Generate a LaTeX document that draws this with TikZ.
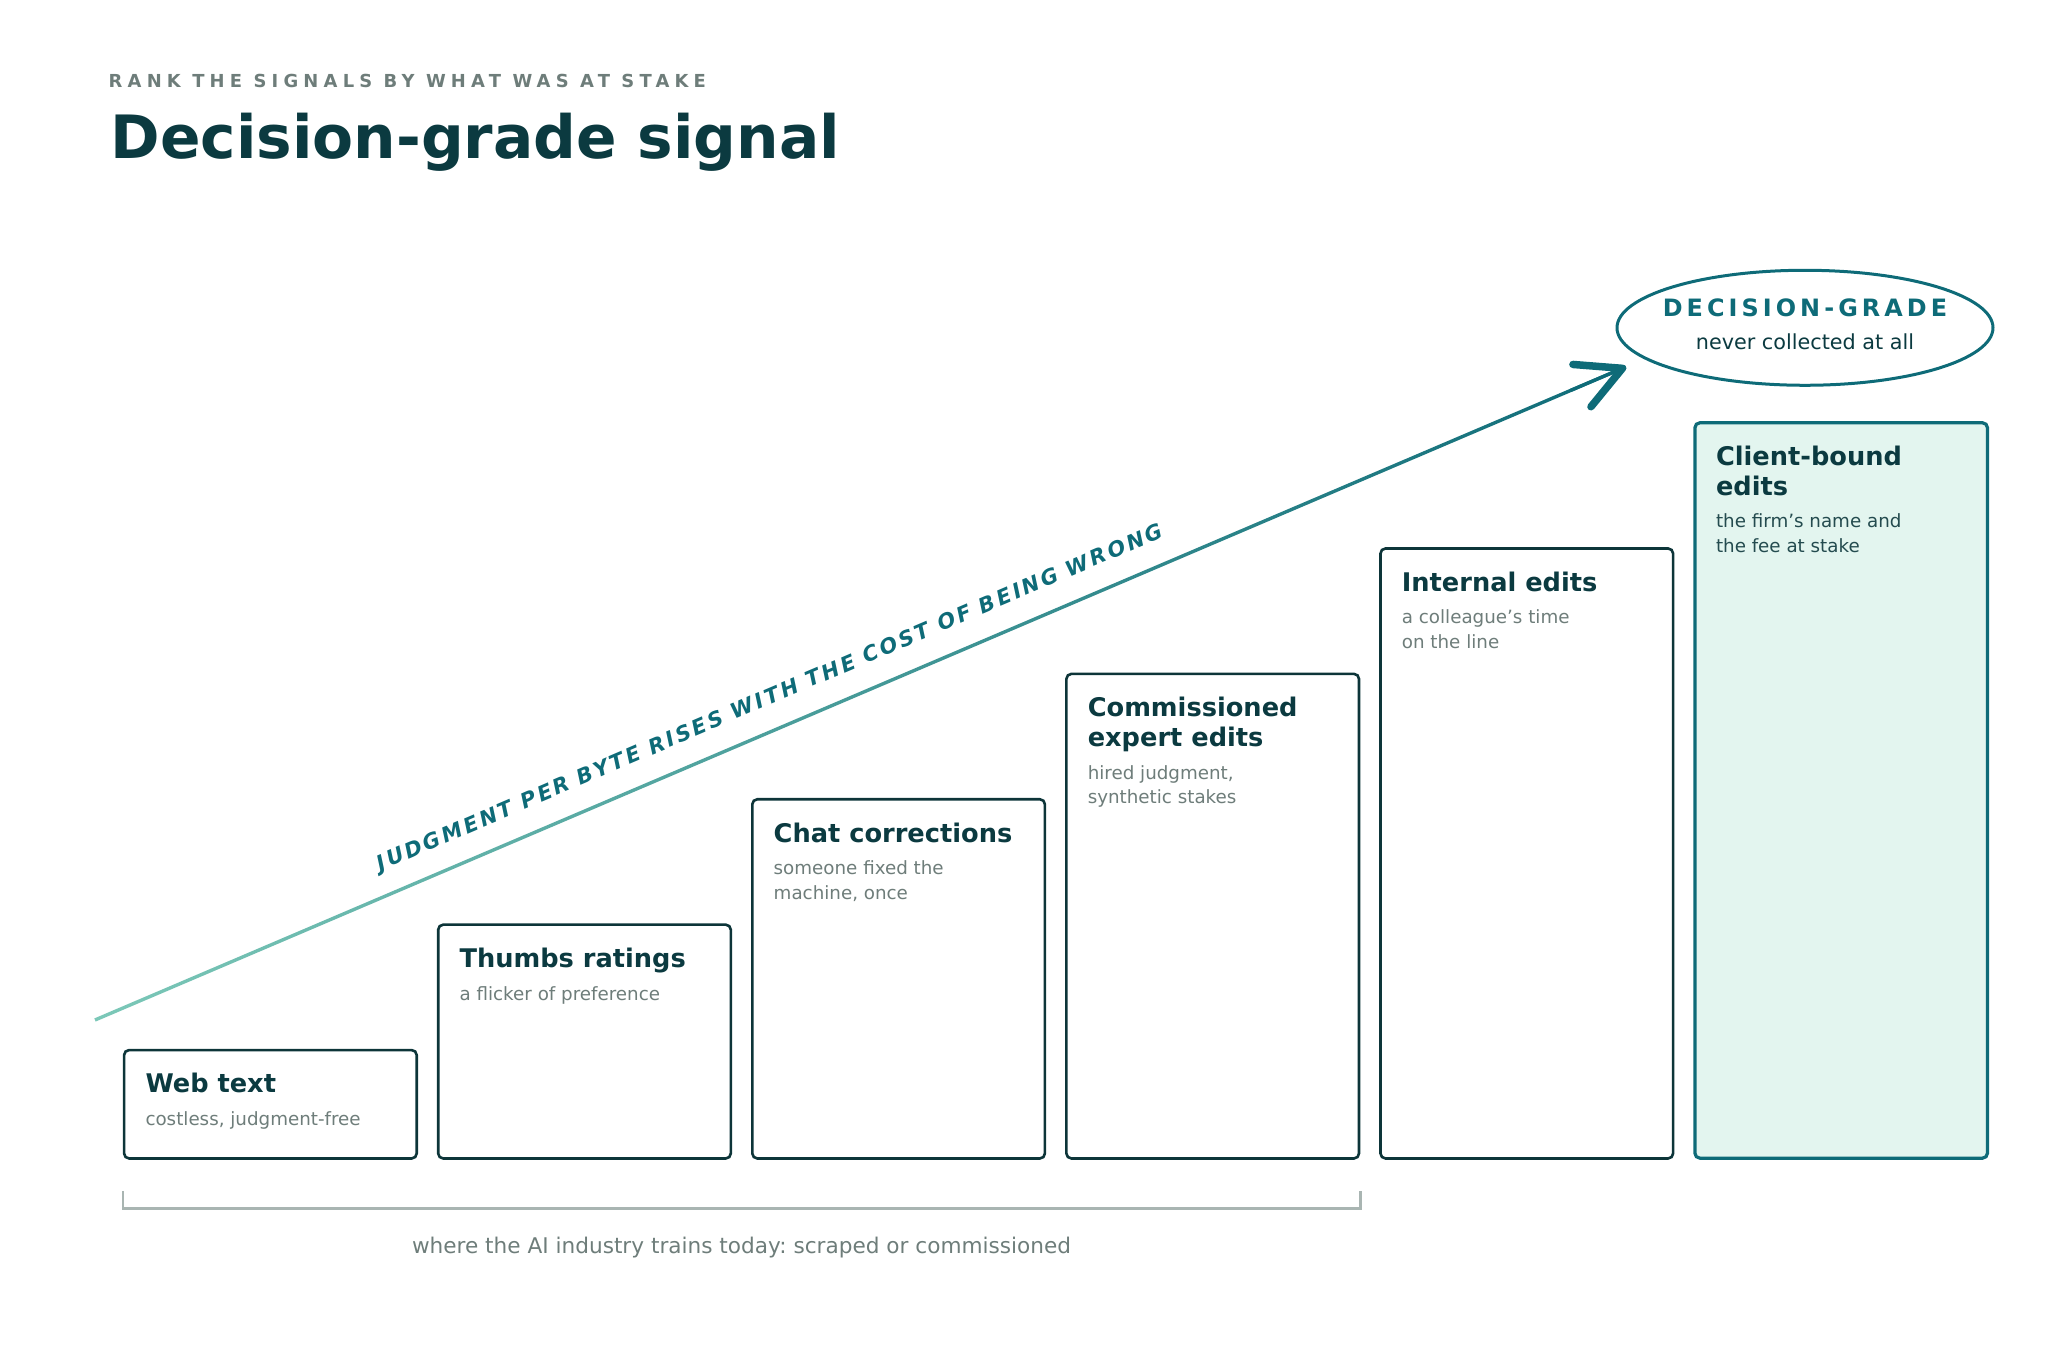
\documentclass[tikz,border=0pt]{standalone}
\usepackage{fontspec}
\setmainfont{DejaVu Sans}
\usepackage{tikz}
\usetikzlibrary{shapes.geometric, arrows.meta, positioning, calc}
\frenchspacing

\definecolor{ink}{HTML}{0B3A40}
\definecolor{deepteal}{HTML}{0E6B78}
\definecolor{softteal}{HTML}{7CC8B8}
\definecolor{mutegray}{HTML}{6E7D7A}
\definecolor{rulegray}{HTML}{A9B5B2}
\definecolor{mintfill}{HTML}{E3F5EF}
\definecolor{boxline}{HTML}{0D3539}

% title + note inside a step
\newcommand{\steptext}[3][mutegray]{%
  \spaceskip=0pt \xspaceskip=0pt
  {\bfseries\fontsize{7.3}{8.5}\selectfont\color{ink}#2\par}\vspace{2.2pt}%
  {\fontsize{5.2}{7.05}\selectfont\color{#1}#3\par}}

\begin{document}
\begin{tikzpicture}[
  stepbox/.style={draw=boxline, line width=0.026cm, rounded corners=0.05cm, fill=white, minimum width=2.926cm, anchor=south west, inner sep=0pt},
  topbox/.style={stepbox, draw=deepteal, line width=0.032cm, fill=mintfill},
  steptxt/.style={anchor=north west, inner sep=0pt, text width=2.6cm, align=flush left},
  goalring/.style={ellipse, draw=deepteal, line width=0.03cm, minimum width=3.76cm, minimum height=1.15cm, inner sep=0pt},
  bracket/.style={draw=rulegray, line width=0.026cm},
  tip/.style={-{Straight Barb[length=0.44cm, width=0.46cm, line width=0.075cm, round]}}
]
\useasboundingbox (0,0) rectangle (20.48,13.66);

% ----- Heading -----
\node[anchor=base west, inner sep=0pt, text=mutegray, font=\bfseries\fontsize{5.1}{6}\selectfont\addfontfeature{LetterSpace=29}] (kicker) at (1.08, 12.785) {RANK THE SIGNALS BY WHAT WAS AT STAKE};
\node[anchor=base west, inner sep=0pt, text=ink, font=\bfseries\fontsize{17}{20}\selectfont] (headline) at (1.10, 12.07) {Decision-grade signal};

% ----- Steps (bottom at y = 2.062) -----
\node[stepbox, minimum height=1.084cm] (web)      at (1.228, 2.062) {};
\node[stepbox, minimum height=2.338cm] (thumbs)   at (4.369, 2.062) {};
\node[stepbox, minimum height=3.592cm] (chat)     at (7.510, 2.062) {};
\node[stepbox, minimum height=4.846cm] (expert)   at (10.651, 2.062) {};
\node[stepbox, minimum height=6.100cm] (internal) at (13.792, 2.062) {};
\node[topbox,  minimum height=7.354cm] (client)   at (16.933, 2.062) {};

\node[steptxt, below right=0.24cm and 0.22cm of web.north west] (webtxt) {\steptext{Web text}{costless, judgment-free}};
\node[steptxt, below right=0.24cm and 0.22cm of thumbs.north west] (thumbstxt) {\steptext{Thumbs ratings}{a flicker of preference}};
\node[steptxt, below right=0.24cm and 0.22cm of chat.north west] (chattxt) {\steptext{Chat corrections}{someone fixed the\\machine, once}};
\node[steptxt, below right=0.24cm and 0.22cm of expert.north west] (experttxt) {\steptext{Commissioned\\expert edits}{hired judgment,\\synthetic stakes}};
\node[steptxt, below right=0.24cm and 0.22cm of internal.north west] (internaltxt) {\steptext{Internal edits}{a colleague’s time\\on the line}};
\node[steptxt, below right=0.24cm and 0.22cm of client.north west] (clienttxt) {\steptext[ink!75!mutegray]{Client-bound\\edits}{the firm’s name and\\the fee at stake}};

% ----- Goal -----
\node[goalring] (goal) at (18.05, 10.382) {};
\node[inner sep=0pt, text=deepteal, font=\bfseries\fontsize{6.8}{8}\selectfont\addfontfeature{LetterSpace=17}] (goaltitle) at ([yshift=0.2cm]goal.center) {DECISION-GRADE};
\node[inner sep=0pt, text=ink, font=\fontsize{5.9}{7}\selectfont] (goalnote) at ([yshift=-0.14cm]goal.center) {never collected at all};

% ----- Rising arrow -----
\coordinate (rise) at (0.95, 3.46);
\coordinate (peak) at ($(goal.191)!0.2cm!(rise)$);
\shade[left color=softteal, right color=deepteal]
  ($(rise)!0.017cm!90:(peak)$) -- ($(peak)!0.017cm!-90:(rise)$) -- ($(peak)!0.017cm!90:(rise)$) -- ($(rise)!0.017cm!-90:(peak)$) -- cycle;
\draw[deepteal, line width=0.033cm, tip] ($(peak)!0.6cm!(rise)$) -- (peak);
\path (rise) -- (peak) node[pos=0.449, sloped, above=0.2cm, inner sep=0pt, text=deepteal, font=\bfseries\itshape\fontsize{6}{7}\selectfont\addfontfeature{LetterSpace=13}] (slope) {JUDGMENT PER BYTE RISES WITH THE COST OF BEING WRONG};

% ----- Today bracket -----
\draw[bracket] ([yshift=-0.31cm]web.south west) -- ([yshift=-0.49cm]web.south west) -- ([yshift=-0.49cm]expert.south east) -- ([yshift=-0.31cm]expert.south east);
\node[anchor=base, inner sep=0pt, text=mutegray, font=\fontsize{6.15}{7}\selectfont] (today) at ($(web.south west)!0.5!(expert.south east) + (0,-0.94)$) {where the AI industry trains today: scraped or commissioned};

\end{tikzpicture}
\end{document}
